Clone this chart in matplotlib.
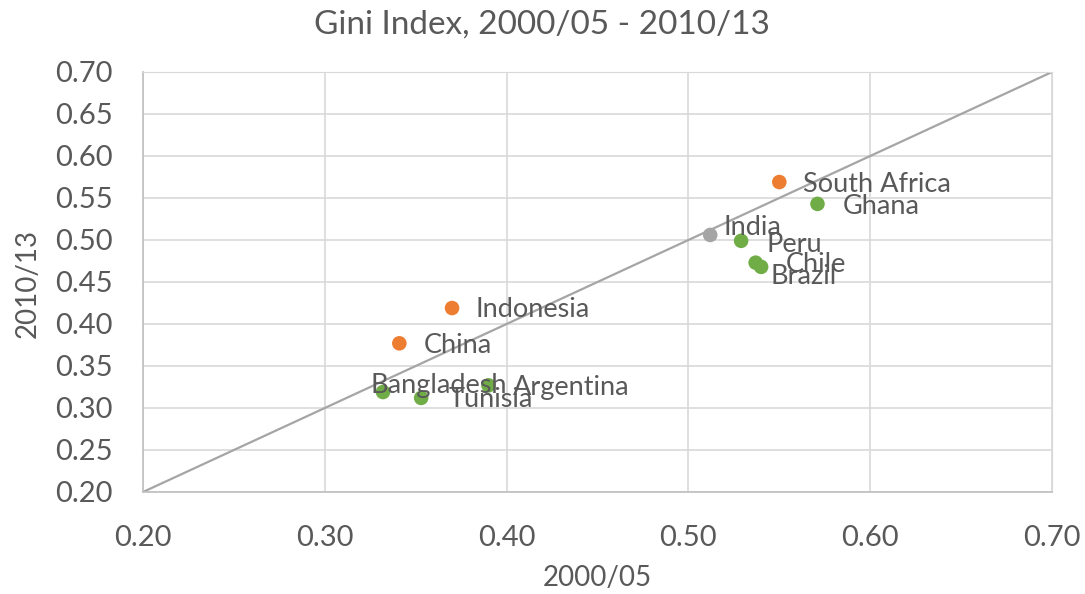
import matplotlib
matplotlib.use('Agg')
import matplotlib.pyplot as plt

plt.rcParams['font.family'] = ['Lato', 'DejaVu Sans']

countries = ['South Africa', 'Ghana', 'India', 'Peru', 'Chile', 'Brazil',
             'Indonesia', 'China', 'Bangladesh', 'Argentina', 'Tunisia']
gini_0005 = [0.550, 0.571, 0.512, 0.529, 0.537, 0.540, 0.370, 0.341, 0.332, 0.390, 0.353]
gini_1013 = [0.569, 0.543, 0.506, 0.499, 0.473, 0.468, 0.419, 0.377, 0.319, 0.327, 0.312]
groups = ['up', 'down', 'flat', 'down', 'down', 'down', 'up', 'up', 'down', 'down', 'down']

colors = {'up': '#ED7D31', 'down': '#70AD47', 'flat': '#A5A5A5'}
# label offsets in pixels (dx, dy), text anchored left / centre
offsets = {
    'South Africa': (24, -2), 'Ghana': (25, -3), 'India': (13, 7), 'Peru': (25, -4),
    'Chile': (30, -2), 'Brazil': (9, -10), 'Indonesia': (23, -1), 'China': (24, -2),
    'Bangladesh': (-12, 7), 'Argentina': (25, -2), 'Tunisia': (27, -2),
}
text_col = '#595959'
grid_col = '#D9D9D9'

fig = plt.figure(figsize=(10.85, 5.94), dpi=100)
ax = fig.add_axes([143/1085, 1-492/594, (1052-143)/1085, (492-72)/594])

ax.plot([0.2, 0.7], [0.2, 0.7], color='#A5A5A5', lw=1.6, zorder=2)
for name, x, y, g in zip(countries, gini_0005, gini_1013, groups):
    ax.scatter(x, y, s=110, color=colors[g], edgecolors='none', zorder=3)
    dx, dy = offsets[name]
    ax.annotate(name, (x, y), xytext=(dx, dy), textcoords='offset pixels',
                ha='left', va='center', fontsize=19.5, color=text_col, zorder=4)

ax.set_xlim(0.2, 0.7)
ax.set_ylim(0.2, 0.7)
ax.set_xticks([0.2 + 0.1*i for i in range(6)])
ax.set_yticks([0.2 + 0.05*i for i in range(11)])
ax.xaxis.set_major_formatter(matplotlib.ticker.FormatStrFormatter('%.2f'))
ax.yaxis.set_major_formatter(matplotlib.ticker.FormatStrFormatter('%.2f'))
ax.tick_params(length=0, labelsize=21, labelcolor=text_col)
ax.tick_params(axis='y', pad=22)
ax.tick_params(axis='x', pad=24)
ax.grid(True, color=grid_col, lw=1.2, zorder=0)
ax.set_axisbelow(True)
for s in ['top', 'right']:
    ax.spines[s].set_color(grid_col)
for s in ['left', 'bottom']:
    ax.spines[s].set_color('#BFBFBF')
    ax.spines[s].set_linewidth(1.2)

fig.text(542/1085, 1-25/594, 'Gini Index, 2000/05 - 2010/13', ha='center', va='center',
         fontsize=24, color=text_col)
fig.text(597/1085, 1-578/594, '2000/05', ha='center', va='center', fontsize=20, color=text_col)
fig.text(28/1085, 1-283/594, '2010/13', ha='center', va='center', rotation=90,
         fontsize=20, color=text_col)

fig.savefig('out.png', dpi=100)
